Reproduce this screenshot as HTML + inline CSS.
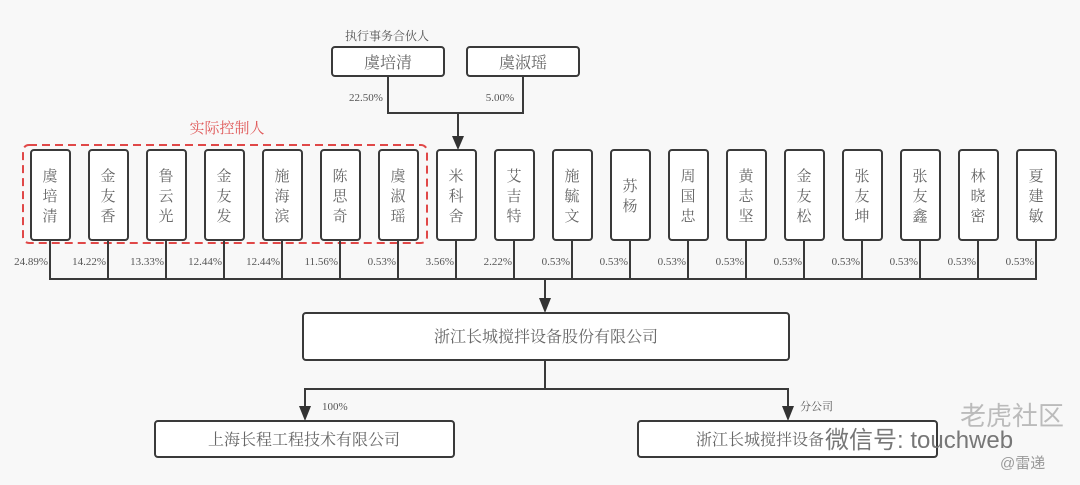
<!DOCTYPE html>
<html><head><meta charset="utf-8"><style>
html,body{margin:0;padding:0;background:#f8f8f8;}
svg{display:block;font-family:"Liberation Serif","Noto Serif CJK SC",serif;}
</style></head><body>
<svg width="1080" height="485" viewBox="0 0 1080 485" xmlns="http://www.w3.org/2000/svg">
<rect width="1080" height="485" fill="#f8f8f8"/>
<g stroke="#3a3a3a" stroke-width="2" fill="#fff">
<rect x="332" y="47" width="112" height="29" rx="3"/>
<rect x="467" y="47" width="112" height="29" rx="3"/>
</g>
<text x="387" y="40" font-size="12" fill="#555" text-anchor="middle">执行事务合伙人</text>
<text x="388" y="68" font-size="16" fill="#666" text-anchor="middle">虞培清</text>
<text x="523" y="68" font-size="16" fill="#666" text-anchor="middle">虞淑瑶</text>
<g stroke="#3a3a3a" stroke-width="2" fill="none">
<path d="M388 76 V113 H523 V76"/>
<line x1="458" y1="113" x2="458" y2="138"/>
</g>
<path d="M452 136 L464 136 L458 150 Z" fill="#333"/>
<text x="366" y="101" font-size="11" fill="#555" text-anchor="middle">22.50%</text>
<text x="500" y="101" font-size="11" fill="#555" text-anchor="middle">5.00%</text>
<text x="227" y="133" font-size="15" fill="#e05a5a" text-anchor="middle">实际控制人</text>
<rect x="23" y="145" width="404" height="98" rx="6" fill="none" stroke="#e04848" stroke-width="2" stroke-dasharray="8,5"/>
<g stroke="#3a3a3a" stroke-width="2" fill="#fff">
<rect x="31" y="150" width="39" height="90" rx="3"/><rect x="89" y="150" width="39" height="90" rx="3"/><rect x="147" y="150" width="39" height="90" rx="3"/><rect x="205" y="150" width="39" height="90" rx="3"/><rect x="263" y="150" width="39" height="90" rx="3"/><rect x="321" y="150" width="39" height="90" rx="3"/><rect x="379" y="150" width="39" height="90" rx="3"/><rect x="437" y="150" width="39" height="90" rx="3"/><rect x="495" y="150" width="39" height="90" rx="3"/><rect x="553" y="150" width="39" height="90" rx="3"/><rect x="611" y="150" width="39" height="90" rx="3"/><rect x="669" y="150" width="39" height="90" rx="3"/><rect x="727" y="150" width="39" height="90" rx="3"/><rect x="785" y="150" width="39" height="90" rx="3"/><rect x="843" y="150" width="39" height="90" rx="3"/><rect x="901" y="150" width="39" height="90" rx="3"/><rect x="959" y="150" width="39" height="90" rx="3"/><rect x="1017" y="150" width="39" height="90" rx="3"/>
</g>
<g font-size="15" fill="#666" text-anchor="middle">
<text x="50" y="181">虞</text><text x="50" y="201">培</text><text x="50" y="221">清</text>
<text x="108" y="181">金</text><text x="108" y="201">友</text><text x="108" y="221">香</text>
<text x="166" y="181">鲁</text><text x="166" y="201">云</text><text x="166" y="221">光</text>
<text x="224" y="181">金</text><text x="224" y="201">友</text><text x="224" y="221">发</text>
<text x="282" y="181">施</text><text x="282" y="201">海</text><text x="282" y="221">滨</text>
<text x="340" y="181">陈</text><text x="340" y="201">思</text><text x="340" y="221">奇</text>
<text x="398" y="181">虞</text><text x="398" y="201">淑</text><text x="398" y="221">瑶</text>
<text x="456" y="181">米</text><text x="456" y="201">科</text><text x="456" y="221">舍</text>
<text x="514" y="181">艾</text><text x="514" y="201">吉</text><text x="514" y="221">特</text>
<text x="572" y="181">施</text><text x="572" y="201">毓</text><text x="572" y="221">文</text>
<text x="630" y="191">苏</text><text x="630" y="211">杨</text>
<text x="688" y="181">周</text><text x="688" y="201">国</text><text x="688" y="221">忠</text>
<text x="746" y="181">黄</text><text x="746" y="201">志</text><text x="746" y="221">坚</text>
<text x="804" y="181">金</text><text x="804" y="201">友</text><text x="804" y="221">松</text>
<text x="862" y="181">张</text><text x="862" y="201">友</text><text x="862" y="221">坤</text>
<text x="920" y="181">张</text><text x="920" y="201">友</text><text x="920" y="221">鑫</text>
<text x="978" y="181">林</text><text x="978" y="201">晓</text><text x="978" y="221">密</text>
<text x="1036" y="181">夏</text><text x="1036" y="201">建</text><text x="1036" y="221">敏</text>
</g>
<g stroke="#3a3a3a" stroke-width="2" fill="none">
<path d="M50 240V279 M108 240V279 M166 240V279 M224 240V279 M282 240V279 M340 240V279 M398 240V279 M456 240V279 M514 240V279 M572 240V279 M630 240V279 M688 240V279 M746 240V279 M804 240V279 M862 240V279 M920 240V279 M978 240V279 M1036 240V279"/>
<line x1="49" y1="279" x2="1037" y2="279"/>
<line x1="545" y1="279" x2="545" y2="300"/>
</g>
<path d="M539 298 L551 298 L545 313 Z" fill="#333"/>
<g font-size="11" fill="#555" text-anchor="end">
<text x="48" y="265">24.89%</text><text x="106" y="265">14.22%</text><text x="164" y="265">13.33%</text><text x="222" y="265">12.44%</text><text x="280" y="265">12.44%</text><text x="338" y="265">11.56%</text><text x="396" y="265">0.53%</text><text x="454" y="265">3.56%</text><text x="512" y="265">2.22%</text><text x="570" y="265">0.53%</text><text x="628" y="265">0.53%</text><text x="686" y="265">0.53%</text><text x="744" y="265">0.53%</text><text x="802" y="265">0.53%</text><text x="860" y="265">0.53%</text><text x="918" y="265">0.53%</text><text x="976" y="265">0.53%</text><text x="1034" y="265">0.53%</text>
</g>
<g stroke="#3a3a3a" stroke-width="2" fill="#fff">
<rect x="303" y="313" width="486" height="47" rx="3"/>
<rect x="155" y="421" width="299" height="36" rx="3"/>
<rect x="638" y="421" width="299" height="36" rx="3"/>
</g>
<text x="546" y="342" font-size="16" fill="#666" text-anchor="middle">浙江长城搅拌设备股份有限公司</text>
<text x="304" y="445" font-size="16" fill="#666" text-anchor="middle">上海长程工程技术有限公司</text>
<text x="760" y="445" font-size="16" fill="#666" text-anchor="middle">浙江长城搅拌设备</text>
<g stroke="#3a3a3a" stroke-width="2" fill="none">
<path d="M545 360V389 M305 389H788"/>
<line x1="305" y1="388" x2="305" y2="408"/>
<line x1="788" y1="388" x2="788" y2="408"/>
</g>
<path d="M299 406 L311 406 L305 421 Z" fill="#333"/>
<path d="M782 406 L794 406 L788 421 Z" fill="#333"/>
<text x="322" y="410" font-size="11" fill="#555">100%</text>
<text x="800" y="410" font-size="11" fill="#555">分公司</text>
<text x="825" y="448" font-size="24" fill="#777" font-family="Liberation Sans, Noto Sans CJK SC, sans-serif">微信号: touchweb</text>
<text x="960" y="425" font-size="26" fill="#bbb" font-family="Liberation Sans, Noto Sans CJK SC, sans-serif">老虎社区</text>
<text x="1000" y="468" font-size="15" fill="#999" font-family="Liberation Sans, Noto Sans CJK SC, sans-serif">@雷递</text>
</svg>
</body></html>
